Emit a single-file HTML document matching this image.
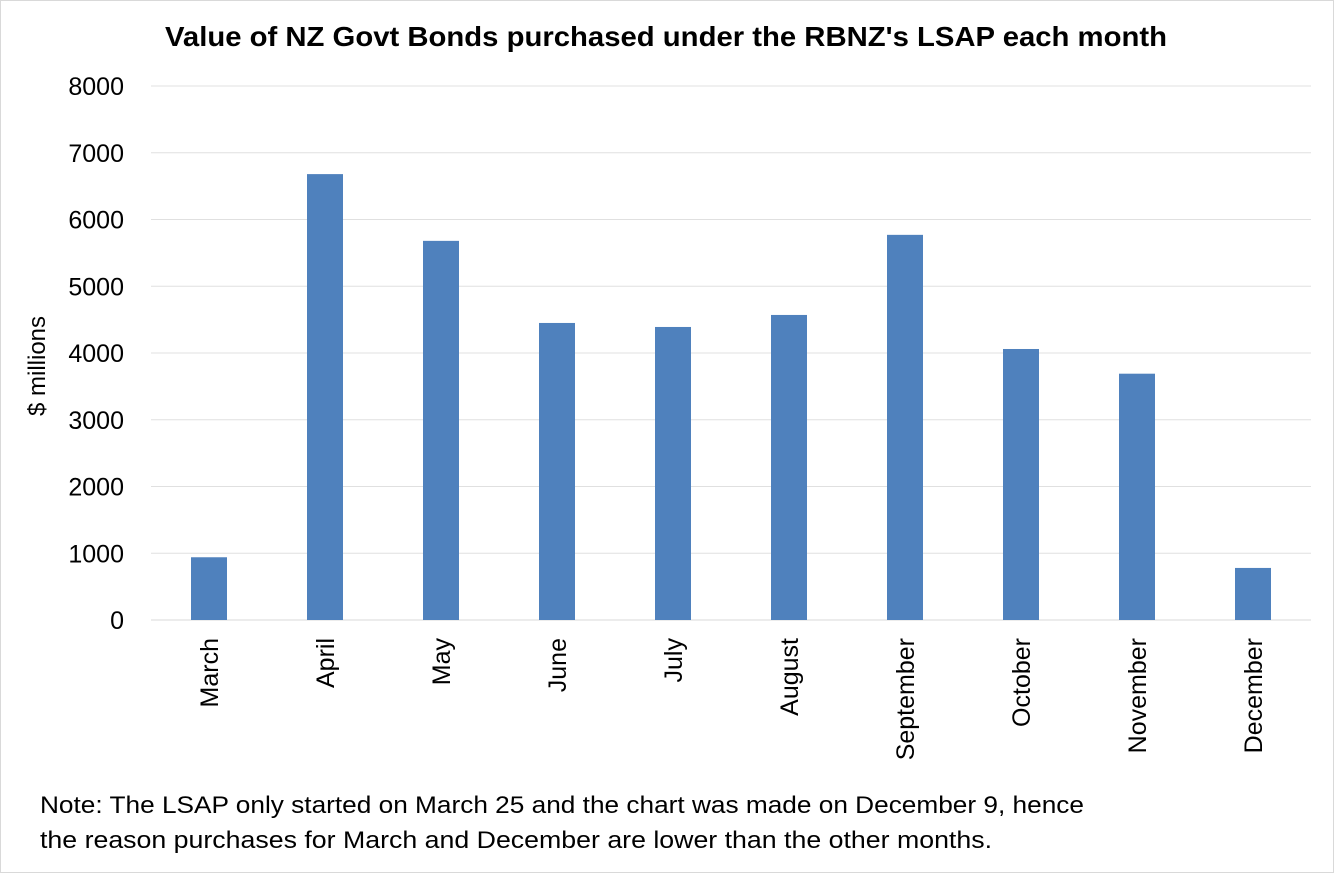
<!DOCTYPE html>
<html><head><meta charset="utf-8"><style>
html,body{margin:0;padding:0;background:#fff;}
svg{display:block;font-family:"Liberation Sans",sans-serif;}
</style></head><body>
<svg id="chart" width="1334" height="873" viewBox="0 0 1334 873">
<rect x="0.5" y="0.5" width="1333" height="872" fill="#fff" stroke="#d9d9d9"/>
<text x="165" y="46" textLength="1002" lengthAdjust="spacingAndGlyphs" font-size="28" font-weight="bold" fill="#000">Value of NZ Govt Bonds purchased under the RBNZ's LSAP each month</text>
<text transform="translate(45,366) rotate(-90)" text-anchor="middle" font-size="24" fill="#000">$ millions</text>
<g id="grid"></g><g id="bars"></g><g id="ylabels"></g><g id="xlabels"></g>
<text x="40" y="813" textLength="1044" lengthAdjust="spacingAndGlyphs" font-size="24" fill="#000">Note: The LSAP only started on March 25 and the chart was made on December 9, hence</text>
<text x="40" y="848" textLength="952" lengthAdjust="spacingAndGlyphs" font-size="24" fill="#000">the reason purchases for March and December are lower than the other months.</text>
</svg>
<script>
const categories=["March","April","May","June","July","August","September","October","November","December"];
const values=[940,6680,5680,4450,4390,4570,5770,4060,3690,780];
const yTicks=[0,1000,2000,3000,4000,5000,6000,7000,8000];
const NS="http://www.w3.org/2000/svg";
const x0=151,x1=1311,yBase=620,yTop=86,yMax=8000;
const band=(x1-x0)/categories.length;
const y=v=>yBase-(v/yMax)*(yBase-yTop);
const xc=i=>x0+band*(i+0.5);
function mk(tag,attrs,parent,text){const e=document.createElementNS(NS,tag);for(const k in attrs)e.setAttribute(k,attrs[k]);if(text!==undefined)e.textContent=text;document.getElementById(parent).appendChild(e);return e;}
yTicks.forEach(t=>{
 const l=mk('line',{x1:x0,x2:x1,y1:y(t),y2:y(t),stroke:t===0?'#d9d9d9':'#e0e0e0','stroke-width':1},'grid');
 
 
 const tx=mk('text',{x:124,y:y(t)+9,'text-anchor':'end','font-size':25,fill:'#000'},'ylabels',String(t));
 
 
});
categories.forEach((c,i)=>{
 const b=mk('rect',{x:xc(i)-18,y:y(values[i]),width:36,height:yBase-y(values[i]),fill:'#4f81bd'},'bars');
 
 
 const t=mk('text',{transform:`translate(${xc(i)+9},638) rotate(-90)`,'text-anchor':'end','font-size':25,fill:'#000'},'xlabels',c);
 
 
});
</script>
</body></html>
